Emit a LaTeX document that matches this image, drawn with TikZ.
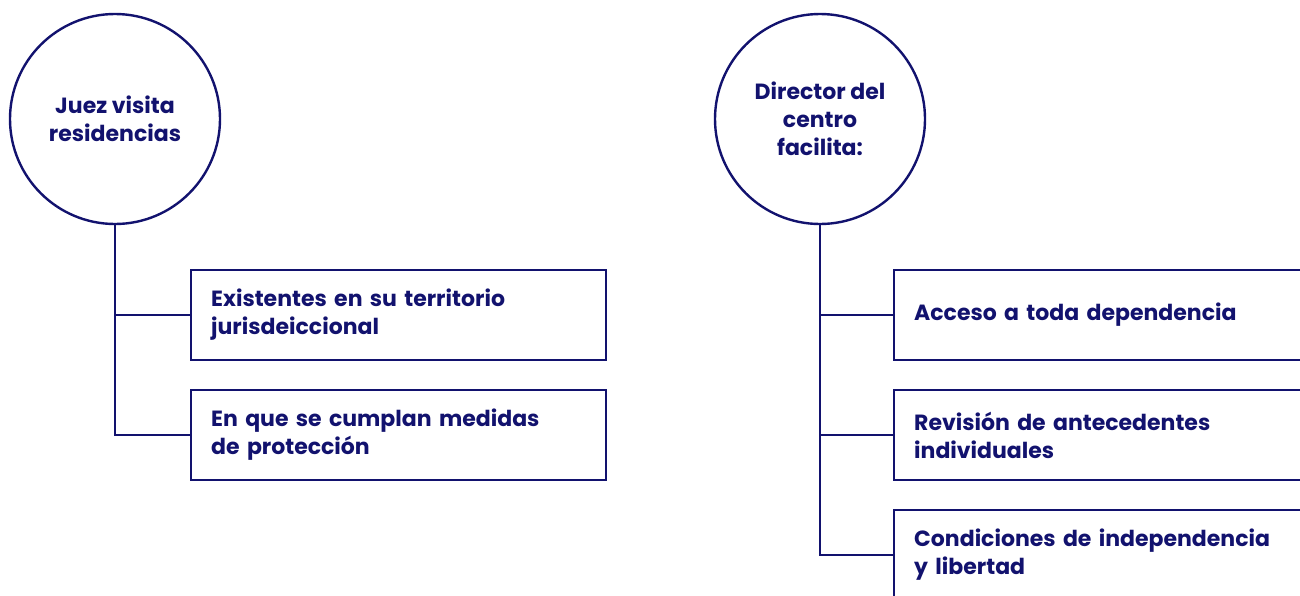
\documentclass[tikz,border=0pt]{standalone}
\usepackage{fontspec}
\setmainfont{Poppins}
\usetikzlibrary{positioning}
\definecolor{navy}{RGB}{18,18,110}

\begin{document}
\begin{tikzpicture}[x=0.5pt,y=-0.5pt,font=\fontsize{11}{14}\selectfont\bfseries,
  hub/.style={circle,draw=navy,text=navy,line width=1.2pt,minimum size=105pt,inner sep=0pt,align=center},
  itembox/.style={draw=navy,text=navy,line width=1.2pt,anchor=west,minimum height=45pt,inner xsep=10pt,inner ysep=0pt,align=left},
  link/.style={draw=navy,line width=1.2pt}]
\useasboundingbox (0,0) rectangle (1300,595);
\clip (0,0) rectangle (1300,595);
\node[hub] (juez) at (115,119) {Juez visita\\residencias};
\node[hub] (dir) at (820,119) {Director del\\centro\\facilita:};
\foreach \n/\y/\t in {1/315/{Existentes en su territorio\\jurisdeiccional},2/435/{En que se cumplan medidas\\de protección}}{
  \node[itembox,minimum width=207.5pt,text width=187.5pt] (l\n) at (190,\y) {\t};
  \draw[link] (juez.south) |- (l\n.west);}
\foreach \n/\y/\t in {1/315/{Acceso a toda dependencia},2/435/{Revisión de antecedentes\\individuales},3/555/{Condiciones de independencia\\y libertad}}{
  \node[itembox,minimum width=220pt,text width=200pt] (r\n) at (893,\y) {\t};
  \draw[link] (dir.south) |- (r\n.west);}
\end{tikzpicture}
\end{document}
